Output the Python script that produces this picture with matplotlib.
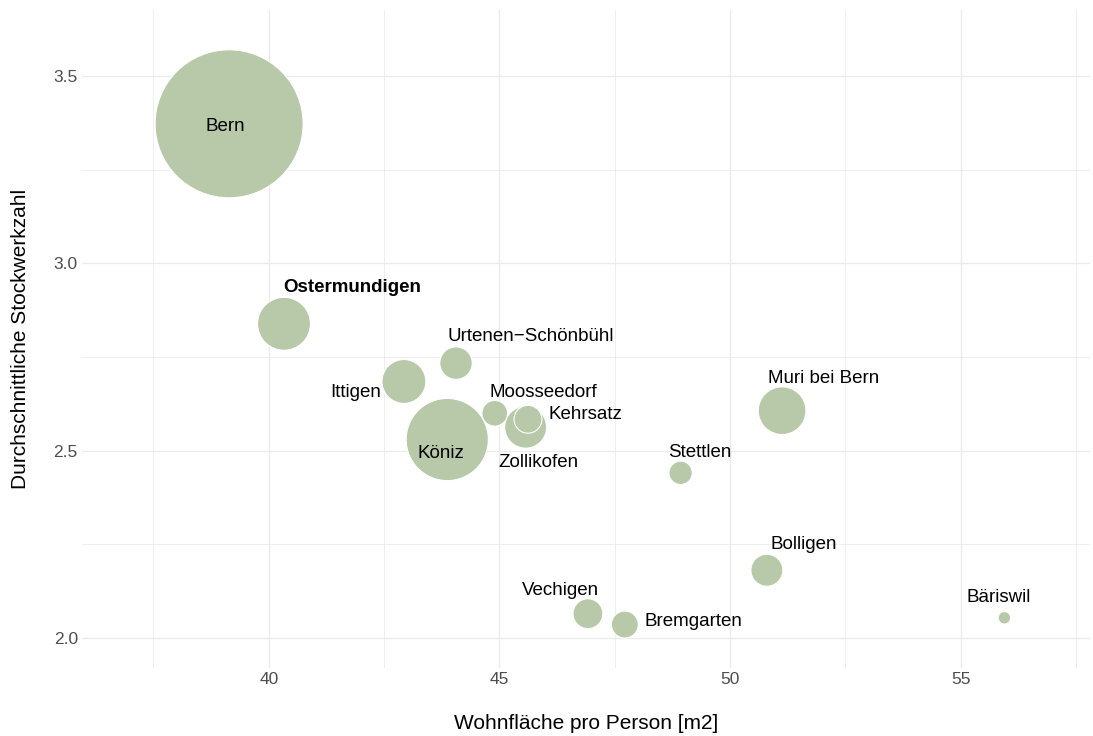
import numpy as np
import matplotlib
matplotlib.use("Agg")
import matplotlib.pyplot as plt
from matplotlib.ticker import MultipleLocator

plt.rcParams['font.family'] = ['Liberation Sans', 'DejaVu Sans']

# data
gemeinden = ["Bern", "Ostermundigen", "Urtenen−Schönbühl", "Ittigen", "Moosseedorf",
             "Kehrsatz", "Köniz", "Zollikofen", "Stettlen", "Muri bei Bern",
             "Bolligen", "Vechigen", "Bremgarten", "Bäriswil"]
wohnflaeche = [39.14, 40.33, 44.06, 42.93, 44.90, 45.62, 43.87, 45.57, 48.93, 51.13,
               50.80, 46.92, 47.72, 55.95]
stockwerke = [3.373, 2.839, 2.734, 2.685, 2.600, 2.584, 2.530, 2.563, 2.441, 2.607,
              2.181, 2.065, 2.036, 2.054]
einwohner = [133000, 17000, 6400, 11700, 4000, 4700, 41000, 10700, 3300, 13800,
             6200, 5400, 4400, 950]

# label positions (text centers)
label_x = [39.05, 41.80, 45.69, 41.88, 45.95, 46.86, 43.74, 45.84, 49.35, 52.03,
           51.60, 46.32, 49.20, 55.82]
label_y = [3.365, 2.935, 2.804, 2.655, 2.655, 2.596, 2.492, 2.468, 2.495, 2.692,
           2.250, 2.127, 2.044, 2.108]

fig = plt.figure(figsize=(10.93, 7.36), dpi=100)
ax = fig.add_axes([0.075, 0.0924, 0.922, 0.8936])

# size: area proportional to population, Bern radius ~74 px
bern_diam_pt = 2 * 74 * 0.72
sizes = [bern_diam_pt ** 2 * p / max(einwohner) for p in einwohner]

# draw bigger ones first
order = np.argsort(einwohner)[::-1]
ax.scatter(np.array(wohnflaeche)[order], np.array(stockwerke)[order],
           s=np.array(sizes)[order], color="#b7c9a8", edgecolors="white",
           linewidths=0.8, zorder=3)

for name, lx, ly in zip(gemeinden, label_x, label_y):
    weight = "bold" if name == "Ostermundigen" else "normal"
    ax.text(lx, ly, name, ha="center", va="center", fontsize=13.5,
            fontweight=weight, color="black", zorder=4)

ax.set_xlim(35.95, 57.8)
ax.set_ylim(1.92, 3.676)
ax.xaxis.set_minor_locator(MultipleLocator(2.5))
ax.yaxis.set_minor_locator(MultipleLocator(0.25))
ax.set_xticks([40, 45, 50, 55])
ax.set_xticklabels(["40", "45", "50", "55"])
ax.set_yticks([2.0, 2.5, 3.0, 3.5])
ax.set_yticklabels(["2.0", "2.5", "3.0", "3.5"])

ax.grid(True, which="major", color="#ebebeb", linewidth=1.0, zorder=0)
ax.grid(True, which="minor", color="#ebebeb", linewidth=0.6, zorder=0)
ax.set_axisbelow(True)
for s in ax.spines.values():
    s.set_visible(False)
ax.tick_params(which="both", length=0, labelsize=12.5, labelcolor="#4d4d4d", pad=3)

ax.set_xlabel("Wohnfläche pro Person [m2]", fontsize=15, labelpad=19)
ax.set_ylabel("Durchschnittliche Stockwerkzahl", fontsize=15, labelpad=17)

fig.savefig("out.png", dpi=100)
